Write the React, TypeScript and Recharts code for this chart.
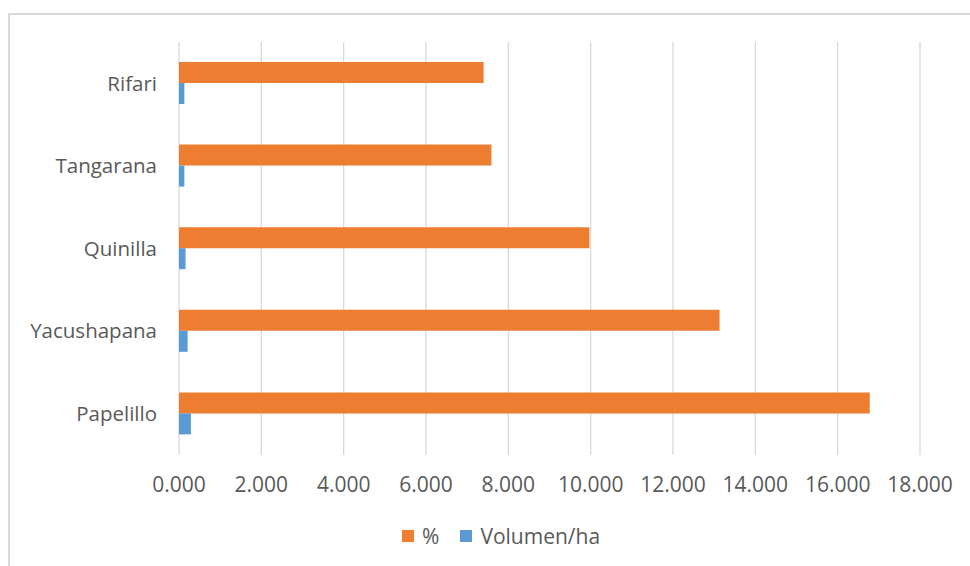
import { BarChart, Bar, XAxis, YAxis, CartesianGrid } from 'recharts';

const species = ['Rifari', 'Tangarana', 'Quinilla', 'Yacushapana', 'Papelillo'];
const percent = [7.4, 7.59, 9.97, 13.13, 16.78];
const volumenHa = [0.13, 0.13, 0.16, 0.21, 0.29];
const xTicks = [0, 2, 4, 6, 8, 10, 12, 14, 16, 18];

const seriesNames = ['%', 'Volumen/ha'];
const seriesColors = ['#ED7D31', '#5B9BD5'];

const textColor = '#595959';
const gridColor = '#d9d9d9';
const font = '"Open Sans", sans-serif';

export default function App() {
  const data = species.map((name, i) => ({
    name,
    pct: percent[i],
    vol: volumenHa[i],
  }));

  return (
    <div style={{ position: 'absolute', left: 0, top: 0, width: 970, height: 566, overflow: 'hidden', background: '#fff' }}>
      {/* chart frame, runs off the right and bottom edges */}
      <div
        style={{
          position: 'absolute',
          left: 8,
          top: 13,
          width: 1000,
          height: 600,
          border: `2px solid ${gridColor}`,
          boxSizing: 'border-box',
        }}
      />
      <div style={{ position: 'absolute', left: 0, top: 0 }}>
        <BarChart
          width={970}
          height={566}
          data={data}
          layout="vertical"
          margin={{ top: 42, right: 50, bottom: 71, left: 9 }}
          barGap={0}
          barSize={21}
        >
          <CartesianGrid horizontal={false} stroke={gridColor} strokeWidth={1.3} />
          <XAxis
            type="number"
            domain={[0, 18]}
            ticks={xTicks}
            interval={0}
            height={40}
            axisLine={false}
            tickLine={false}
            tickMargin={16}
            tickFormatter={(v: number) => v.toFixed(3)}
            tick={{ fill: textColor, fontSize: 21, fontFamily: font }}
          />
          <YAxis
            type="category"
            dataKey="name"
            width={170}
            axisLine={false}
            tickLine={false}
            tickMargin={16}
            tick={{ fill: textColor, fontSize: 20.5, fontFamily: font }}
          />
          <Bar dataKey="pct" name={seriesNames[0]} fill={seriesColors[0]} isAnimationActive={false} />
          <Bar dataKey="vol" name={seriesNames[1]} fill={seriesColors[1]} isAnimationActive={false} />
        </BarChart>
      </div>
      {/* legend */}
      <div
        style={{
          position: 'absolute',
          left: 402,
          top: 521,
          height: 30,
          display: 'flex',
          alignItems: 'center',
          fontFamily: font,
          fontSize: 21,
          color: textColor,
        }}
      >
        {seriesNames.map((n, i) => (
          <div key={n} style={{ display: 'flex', alignItems: 'center', marginRight: i === 0 ? 21 : 0 }}>
            <span style={{ width: 12, height: 12, background: seriesColors[i], marginRight: 8, display: 'inline-block' }} />
            <span>{n}</span>
          </div>
        ))}
      </div>
    </div>
  );
}
